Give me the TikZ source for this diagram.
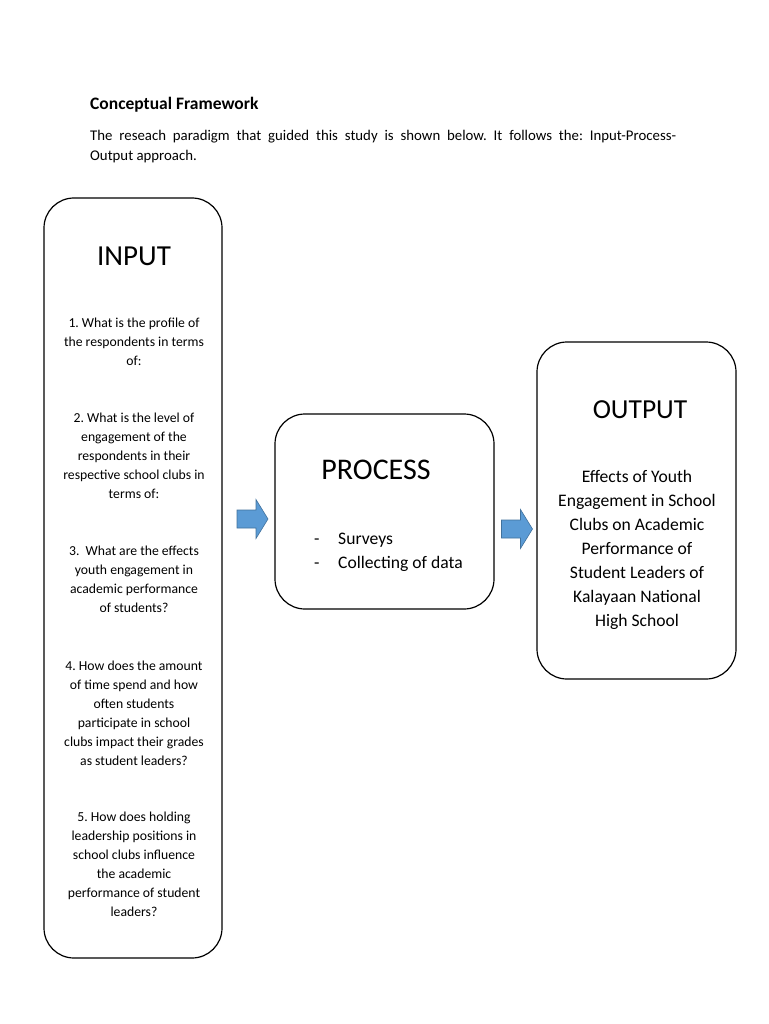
\documentclass[tikz,border=0pt]{standalone}
\usepackage{fontspec}
\setmainfont{Carlito}
\frenchspacing
\definecolor{arrowblue}{HTML}{5B9BD5}
\definecolor{arrowedge}{HTML}{41719C}
\begin{document}
\begin{tikzpicture}[x=1pt,y=-1pt,
	box/.style={draw,line width=1.2pt,rounded corners=30pt,inner sep=0pt},
	head/.style={font=\fontsize{28}{32}\selectfont,inner sep=0pt,anchor=base},
	item/.style={font=\fontsize{13.7}{19}\selectfont,align=center,inner sep=0pt,anchor=north},
	blockarrow/.style={fill=arrowblue,draw=arrowedge,line width=0.6pt}]
				\useasboundingbox (0,0) rectangle (768,1024);
				% heading and text above
				\node[anchor=base west,inner sep=0pt,font=\fontsize{17.5}{20}\selectfont\bfseries] (T) at (90,110) {Conceptual Framework};
				\node[anchor=north west,inner sep=0pt,text width=586pt,align=justify,font=\fontsize{14.8}{20}\selectfont] (T1) at (90,130) {The reseach paradigm that guided this study is shown below. It follows the: Input-Process-\linebreak Output approach.};
				
				% boxes
				\node[box,minimum width=178pt,minimum height=760pt] (I) at (133,578) {};
				\node[box,minimum width=219pt,minimum height=195pt] (P) at (384.5,511.5) {};
				\node[box,minimum width=199pt,minimum height=337pt] (O) at (636.5,510.5) {};
				\coordinate (IP) at (252.5,519);
				\coordinate (PO) at (517,529);
				\foreach \a in {IP,PO}
					\draw[blockarrow,shift={(\a)}] (-15.5,-9) -- (3.5,-9) -- (3.5,-19.5) -- (15.5,0) -- (3.5,19.5) -- (3.5,9) -- (-15.5,9) -- cycle;
				
				% input
				\node[head,font=\fontsize{29}{32}\selectfont] (I0) at (134,265) {INPUT};
				\node[item] (I1) at (134,318) {1. What is the profile of\\the respondents in terms\\of:};
				\node[item] (I2) at (134,413) {2. What is the level of\\engagement of the\\respondents in their\\respective school clubs in\\terms of:};
				\node[item] (I3) at (134,546) {3.\ \ What are the effects\\youth engagement in\\academic performance\\of students?};
				\node[item] (I4) at (134,661) {4. How does the amount\\of time spend and how\\often students\\participate in school\\clubs impact their grades\\as student leaders?};
				\node[item] (I5) at (134,812) {5. How does holding\\leadership positions in\\school clubs influence\\the academic\\performance of student\\leaders?};
				
				% process
				\node[head,font=\fontsize{30}{32}\selectfont] (P0) at (376,479) {PROCESS};
				\node[anchor=north west,inner sep=0pt,align=left,font=\fontsize{17.6}{24}\selectfont] (P1) at (314,533) {\makebox[24pt][l]{-}Surveys\\\makebox[24pt][l]{-}Collecting of data};
				
				% output
				\node[head,font=\fontsize{27.5}{32}\selectfont] (O0) at (640,418) {OUTPUT};
				\node[item,font=\fontsize{17.6}{24}\selectfont] (O1) at (637,470) {Effects of Youth\\Engagement in School\\Clubs on Academic\\Performance of\\Student Leaders of\\Kalayaan National\\High School};
			\end{tikzpicture}
\end{document}
